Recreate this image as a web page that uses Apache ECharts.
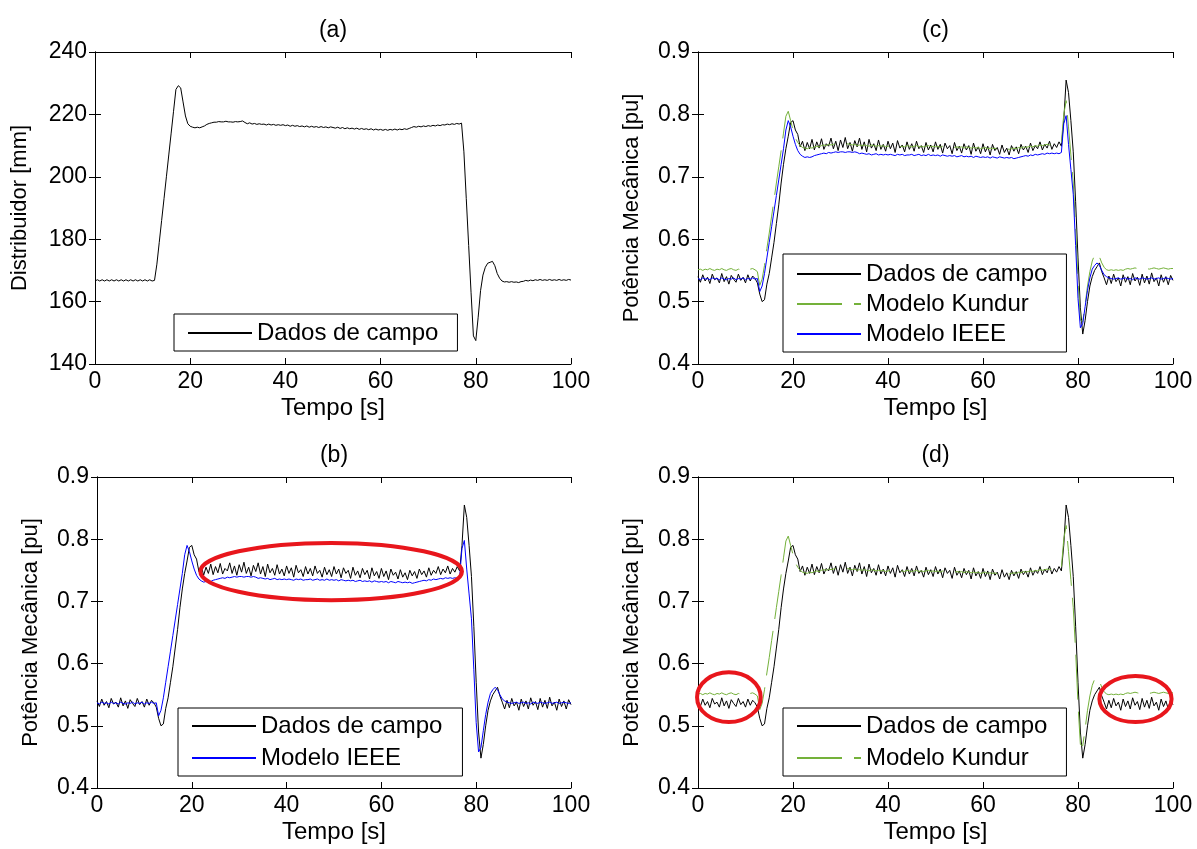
<!DOCTYPE html>
<html><head><meta charset="utf-8">
<script src="https://cdn.jsdelivr.net/npm/echarts@6/dist/echarts.min.js"></script>
<style>html,body{margin:0;padding:0;background:#fff}#c{width:1197px;height:849px}</style>
</head><body><div id="c"></div>
<script>
// sampling step of all series [s]
const dt = 0.5;

// (a) Distribuidor [mm], t = 0 .. 100 s
const distribuidor = [
166.6,167.0,166.6,167.0,166.6,167.0,166.6,167.0,166.6,167.0,
166.6,167.0,166.6,167.0,166.6,167.0,166.6,167.0,166.6,167.0,
166.6,167.0,166.6,167.0,166.6,166.8,172.0,179.0,186.0,193.0,
200.0,207.0,214.0,221.0,228.0,229.2,228.5,224.0,219.5,217.0,
216.2,215.9,215.7,215.9,215.7,216.0,216.3,216.8,217.1,217.3,
217.5,217.5,217.7,217.6,217.6,217.8,217.6,217.6,217.5,217.7,
217.6,217.7,217.9,217.4,217.0,217.3,216.9,217.1,216.8,217.0,
216.8,216.9,216.6,216.9,216.6,216.8,216.5,216.7,216.5,216.7,
216.4,216.6,216.2,216.5,216.2,216.4,216.1,216.3,216.0,216.3,
215.9,216.2,215.9,216.1,215.8,216.1,215.8,216.0,215.7,216.0,
215.8,215.6,215.9,215.5,215.8,215.4,215.7,215.4,215.6,215.3,
215.6,215.2,215.5,215.2,215.4,215.1,215.4,215.0,215.3,215.0,
215.2,214.9,215.2,214.9,215.2,215.0,215.3,215.0,215.3,215.1,
215.4,215.2,215.5,215.8,216.1,215.9,216.2,216.0,216.3,216.1,
216.4,216.2,216.5,216.3,216.6,216.4,216.7,216.6,216.9,216.7,
217.0,216.8,217.1,216.9,217.2,208.0,193.0,178.0,163.0,149.0,
147.5,155.0,163.5,168.5,171.0,172.3,172.6,172.9,171.5,169.0,
167.5,166.6,166.3,166.4,166.2,166.4,166.2,166.3,166.1,166.4,
166.5,166.8,166.6,166.9,166.7,167.0,166.8,167.1,166.8,167.0,
166.8,167.1,166.8,167.0,166.8,167.1,166.8,167.0,166.8,167.1,
166.9];

// Potência Mecânica [pu] – Dados de campo
const dadosCampo = [
0.540,0.531,0.543,0.533,0.539,0.529,0.544,0.535,0.538,0.530,
0.545,0.532,0.540,0.528,0.542,0.536,0.531,0.544,0.534,0.539,
0.530,0.543,0.533,0.541,0.537,0.530,0.512,0.500,0.503,0.528,
0.545,0.570,0.595,0.625,0.655,0.690,0.720,0.745,0.765,0.787,
0.790,0.775,0.768,0.748,0.757,0.742,0.755,0.745,0.760,0.743,
0.756,0.746,0.761,0.744,0.753,0.749,0.762,0.745,0.757,0.742,
0.759,0.747,0.763,0.745,0.755,0.741,0.758,0.748,0.762,0.744,
0.756,0.740,0.760,0.746,0.753,0.742,0.759,0.744,0.752,0.741,
0.757,0.745,0.754,0.739,0.758,0.746,0.751,0.740,0.756,0.744,
0.753,0.741,0.757,0.745,0.750,0.739,0.755,0.743,0.751,0.740,
0.756,0.744,0.752,0.738,0.754,0.745,0.750,0.737,0.755,0.742,
0.749,0.738,0.753,0.743,0.750,0.736,0.754,0.741,0.748,0.737,
0.753,0.740,0.749,0.735,0.752,0.742,0.747,0.736,0.751,0.739,
0.746,0.735,0.750,0.741,0.748,0.737,0.752,0.743,0.749,0.739,
0.754,0.742,0.750,0.745,0.756,0.743,0.752,0.746,0.757,0.744,
0.753,0.747,0.756,0.749,0.790,0.855,0.835,0.790,0.740,0.660,
0.570,0.490,0.448,0.470,0.500,0.525,0.540,0.550,0.556,0.562,
0.548,0.538,0.527,0.541,0.529,0.544,0.532,0.538,0.525,0.543,
0.531,0.540,0.527,0.545,0.533,0.539,0.526,0.544,0.530,0.541,
0.528,0.546,0.532,0.538,0.525,0.543,0.531,0.540,0.527,0.542,
0.534];

// Potência Mecânica [pu] – Modelo Kundur
const modeloKundur = [
0.551,0.552,0.550,0.552,0.551,0.553,0.551,0.550,0.552,0.551,
0.553,0.551,0.550,0.552,0.553,0.551,0.550,0.552,0.551,0.553,
0.551,0.550,0.552,0.553,0.551,0.548,0.526,0.536,0.558,0.585,
0.610,0.637,0.663,0.690,0.716,0.742,0.770,0.797,0.805,0.790,
0.775,0.762,0.755,0.750,0.747,0.746,0.745,0.747,0.746,0.748,
0.749,0.748,0.750,0.751,0.750,0.752,0.751,0.752,0.753,0.752,
0.753,0.752,0.751,0.753,0.752,0.751,0.752,0.750,0.751,0.750,
0.751,0.750,0.749,0.751,0.750,0.749,0.750,0.749,0.750,0.748,
0.749,0.750,0.748,0.749,0.750,0.748,0.749,0.748,0.750,0.749,
0.748,0.749,0.750,0.748,0.749,0.748,0.749,0.750,0.748,0.749,
0.748,0.749,0.747,0.749,0.748,0.747,0.748,0.749,0.747,0.748,
0.747,0.748,0.746,0.748,0.747,0.746,0.747,0.746,0.747,0.745,
0.746,0.747,0.745,0.746,0.745,0.746,0.744,0.745,0.746,0.744,
0.745,0.744,0.745,0.746,0.745,0.747,0.746,0.748,0.747,0.748,
0.749,0.748,0.750,0.749,0.751,0.750,0.751,0.752,0.751,0.752,
0.751,0.752,0.751,0.754,0.800,0.822,0.780,0.735,0.690,0.620,
0.535,0.470,0.468,0.495,0.525,0.548,0.565,0.575,0.578,0.572,
0.562,0.555,0.551,0.550,0.551,0.550,0.551,0.550,0.551,0.550,
0.552,0.553,0.552,0.553,0.554,0.553,0.552,0.553,0.554,0.553,
0.552,0.553,0.554,0.553,0.552,0.553,0.554,0.553,0.552,0.553,
0.553];

// Potência Mecânica [pu] – Modelo IEEE
const modeloIEEE = [
0.537,0.535,0.538,0.536,0.537,0.535,0.538,0.536,0.537,0.535,
0.538,0.536,0.535,0.537,0.536,0.538,0.535,0.537,0.536,0.538,
0.535,0.537,0.536,0.538,0.536,0.537,0.516,0.525,0.545,0.570,
0.595,0.620,0.645,0.670,0.695,0.720,0.745,0.775,0.790,0.780,
0.765,0.752,0.742,0.736,0.733,0.731,0.732,0.731,0.732,0.734,
0.735,0.736,0.737,0.738,0.737,0.739,0.738,0.739,0.740,0.739,
0.740,0.740,0.739,0.740,0.740,0.739,0.740,0.739,0.737,0.738,
0.737,0.736,0.737,0.735,0.736,0.737,0.735,0.736,0.735,0.736,
0.735,0.736,0.735,0.734,0.736,0.735,0.736,0.734,0.735,0.735,
0.736,0.734,0.735,0.736,0.734,0.735,0.734,0.736,0.734,0.735,
0.734,0.735,0.733,0.735,0.734,0.733,0.734,0.733,0.734,0.732,
0.733,0.734,0.732,0.733,0.732,0.733,0.731,0.733,0.732,0.731,
0.732,0.731,0.732,0.730,0.732,0.731,0.730,0.732,0.731,0.730,
0.731,0.730,0.731,0.729,0.730,0.731,0.732,0.733,0.734,0.733,
0.735,0.734,0.736,0.735,0.736,0.737,0.736,0.738,0.737,0.738,
0.737,0.738,0.737,0.739,0.785,0.798,0.752,0.712,0.672,0.590,
0.505,0.458,0.465,0.492,0.518,0.538,0.552,0.558,0.562,0.558,
0.550,0.543,0.540,0.538,0.537,0.536,0.537,0.538,0.536,0.537,
0.538,0.536,0.537,0.535,0.538,0.537,0.536,0.538,0.537,0.536,
0.537,0.538,0.536,0.537,0.538,0.536,0.537,0.538,0.537,0.536,
0.537];

// axis ranges / tick steps
const xRange = [0, 100, 20];
const yRangeDist = [140, 240, 20];
const yRangePot = [0.4, 0.9, 0.1];

const panelTitles = ['(a)', '(c)', '(b)', '(d)'];
const nameDados = 'Dados de campo', nameKundur = 'Modelo Kundur', nameIEEE = 'Modelo IEEE';

// red highlight ellipses (data coordinates): panel index, centre, semi-axes
const highlights = [
  {panel: 2, cx: 49.4, cy: 0.748, rx: 27.6, ry: 0.046},
  {panel: 3, cx: 6.5, cy: 0.546, rx: 6.7, ry: 0.040},
  {panel: 3, cx: 92.1, cy: 0.543, rx: 7.6, ry: 0.037}
];

const FONT = '"Liberation Sans", Arial, Helvetica, sans-serif';
const COL = {dados: '#000000', kundur: '#74b13a', ieee: '#0000ff'};

const grids = [
  {left: 95, top: 52, width: 476, height: 312},
  {left: 698, top: 52, width: 475, height: 312},
  {left: 97, top: 477, width: 474, height: 311},
  {left: 698, top: 477, width: 475, height: 311}
];
const yNames = ['Distribuidor [mm]', 'Potência Mecânica [pu]', 'Potência Mecânica [pu]', 'Potência Mecânica [pu]'];
const yNameGaps = [64, 55, 55, 55];

const pairs = arr => arr.map((v, i) => [i * dt, v]);

const lineAx = {show: true, lineStyle: {color: '#000', width: 1}};
const tickIn = {show: true, inside: true, length: 6, lineStyle: {color: '#000'}};
const tickLbl = {color: '#000', fontFamily: FONT, fontSize: 23};
const xNameStyle = {color: '#000', fontFamily: FONT, fontSize: 24};
const yNameStyle = {color: '#000', fontFamily: FONT, fontSize: 22};

const xAxis = [], yAxis = [];
for (let g = 0; g < 4; g++) {
  xAxis.push({type: 'value', gridIndex: g, position: 'bottom', min: xRange[0], max: xRange[1], interval: xRange[2],
    axisLine: lineAx, axisTick: tickIn, splitLine: {show: false},
    axisLabel: Object.assign({margin: 6}, tickLbl),
    name: 'Tempo [s]', nameLocation: 'middle', nameGap: 32, nameTextStyle: xNameStyle});
}
for (let g = 0; g < 4; g++) {
  xAxis.push({type: 'value', gridIndex: g, position: 'top', min: xRange[0], max: xRange[1], interval: xRange[2],
    axisLine: lineAx, axisTick: tickIn, splitLine: {show: false}, axisLabel: {show: false}});
}
for (let g = 0; g < 4; g++) {
  const r = g === 0 ? yRangeDist : yRangePot;
  yAxis.push({type: 'value', gridIndex: g, position: 'left', min: r[0], max: r[1], interval: r[2],
    axisLine: lineAx, axisTick: tickIn, splitLine: {show: false},
    axisLabel: Object.assign({margin: 8}, tickLbl),
    name: yNames[g], nameLocation: 'middle', nameGap: yNameGaps[g], nameTextStyle: yNameStyle});
}
for (let g = 0; g < 4; g++) {
  const r = g === 0 ? yRangeDist : yRangePot;
  yAxis.push({type: 'value', gridIndex: g, position: 'right', min: r[0], max: r[1], interval: r[2],
    axisLine: lineAx, axisTick: tickIn, splitLine: {show: false}, axisLabel: {show: false}});
}

function ser(name, data, g, color, dash) {
  return {type: 'line', name: name, xAxisIndex: g, yAxisIndex: g, data: pairs(data),
    symbol: 'none', showSymbol: false, silent: true, animation: false,
    lineStyle: {color: color, width: 1, type: dash || 'solid'}, itemStyle: {color: color, opacity: 0}};
}
const kDash = [45, 12];
const series = [
  ser(nameDados, distribuidor, 0, COL.dados),
  ser(nameDados, dadosCampo, 1, COL.dados),
  ser(nameKundur, modeloKundur, 1, COL.kundur, kDash),
  ser(nameIEEE, modeloIEEE, 1, COL.ieee),
  ser(nameDados, dadosCampo, 2, COL.dados),
  ser(nameIEEE, modeloIEEE, 2, COL.ieee),
  ser(nameDados, dadosCampo, 3, COL.dados),
  ser(nameKundur, modeloKundur, 3, COL.kundur, kDash)
];

function leg(left, top, names, pad, gap) {
  return {left: left, top: top, orient: 'vertical', data: names, selectedMode: false,
    itemWidth: 64, itemHeight: 14, itemGap: gap, padding: pad,
    itemStyle: {opacity: 0},
    borderColor: '#000', borderWidth: 1, backgroundColor: '#fff',
    textStyle: {color: '#000', fontFamily: FONT, fontSize: 24}};
}
const legend = [
  leg(174, 314, [nameDados], [7, 19, 6, 13], 8),
  leg(783, 254, [nameDados, nameKundur, nameIEEE], [8, 19, 6, 13], 6),
  leg(178, 708, [nameDados, nameIEEE], [6, 20, 6, 13], 8),
  leg(783, 708, [nameDados, nameKundur], [6, 19, 6, 13], 8)
];

const chart = echarts.init(document.getElementById('c'), null, {renderer: 'canvas'});
chart.setOption({animation: false, backgroundColor: '#fff', grid: grids, xAxis: xAxis, yAxis: yAxis, series: series, legend: legend});

const graphic = [];
grids.forEach((gr, i) => {
  graphic.push({type: 'text', id: 't' + i, x: gr.left + gr.width / 2, y: gr.top - 21,
    style: {text: panelTitles[i], align: 'center', verticalAlign: 'middle', fill: '#000', font: '23px ' + FONT}});
});
highlights.forEach((h, i) => {
  const c = chart.convertToPixel({gridIndex: h.panel}, [h.cx, h.cy]);
  const p = chart.convertToPixel({gridIndex: h.panel}, [h.cx + h.rx, h.cy + h.ry]);
  graphic.push({type: 'ellipse', id: 'e' + i, z: 100,
    shape: {cx: c[0], cy: c[1], rx: Math.abs(p[0] - c[0]), ry: Math.abs(c[1] - p[1])},
    style: {fill: null, stroke: '#e8161c', lineWidth: 4}});
});
chart.setOption({graphic: graphic});
</script></body></html>
